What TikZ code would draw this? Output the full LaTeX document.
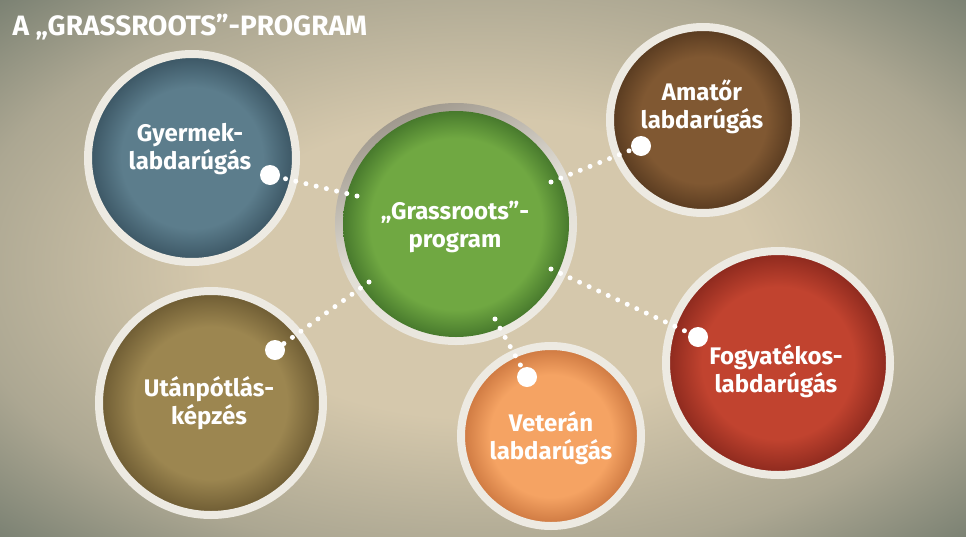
\documentclass[tikz,border=0pt]{standalone}
\usepackage{fontspec}
\setmainfont{Fira Sans}
\usetikzlibrary{calc}
\definecolor{bgA}{RGB}{213,200,172}
\definecolor{bgB}{RGB}{172,167,146}
\definecolor{bgC}{RGB}{120,127,113}
\definecolor{ringc}{RGB}{237,234,226}
\definecolor{ringdark}{RGB}{160,153,142}
\definecolor{blueIn}{RGB}{92,125,140}\definecolor{blueOut}{RGB}{58,84,98}
\definecolor{greenIn}{RGB}{112,168,66}\definecolor{greenOut}{RGB}{72,122,45}
\definecolor{brownIn}{RGB}{128,88,50}\definecolor{brownOut}{RGB}{86,57,31}
\definecolor{redIn}{RGB}{193,67,47}\definecolor{redOut}{RGB}{138,40,29}
\definecolor{orangeIn}{RGB}{245,163,99}\definecolor{orangeOut}{RGB}{203,118,63}
\definecolor{oliveIn}{RGB}{156,134,80}\definecolor{oliveOut}{RGB}{108,90,50}
\pgfdeclareradialshading{bgsh}{\pgfpoint{0bp}{0bp}}{color(0bp)=(bgA); color(14bp)=(bgA); color(27bp)=(bgB); color(36bp)=(bgC); color(50bp)=(bgC)}
\pgfdeclareradialshading{shBlue}{\pgfpoint{0bp}{0bp}}{color(0bp)=(blueIn); color(17bp)=(blueIn); color(25bp)=(blueOut); color(50bp)=(blueOut)}
\pgfdeclareradialshading{shGreen}{\pgfpoint{0bp}{0bp}}{color(0bp)=(greenIn); color(19bp)=(greenIn); color(25bp)=(greenOut); color(50bp)=(greenOut)}
\pgfdeclareradialshading{shBrown}{\pgfpoint{0bp}{0bp}}{color(0bp)=(brownIn); color(17bp)=(brownIn); color(25bp)=(brownOut); color(50bp)=(brownOut)}
\pgfdeclareradialshading{shRed}{\pgfpoint{0bp}{0bp}}{color(0bp)=(redIn); color(17bp)=(redIn); color(25bp)=(redOut); color(50bp)=(redOut)}
\pgfdeclareradialshading{shOrange}{\pgfpoint{0bp}{0bp}}{color(0bp)=(orangeIn); color(17bp)=(orangeIn); color(25bp)=(orangeOut); color(50bp)=(orangeOut)}
\pgfdeclareradialshading{shOlive}{\pgfpoint{0bp}{0bp}}{color(0bp)=(oliveIn); color(17bp)=(oliveIn); color(25bp)=(oliveOut); color(50bp)=(oliveOut)}
\tikzset{
  ball/.style 2 args={circle, inner sep=0pt, minimum size={2*(#1)-8pt}, draw=ringc, line width=8pt, shading=#2},
  lbl/.style={text=white, align=center, font=\bfseries\fontsize{24}{28.5}\selectfont},
  bigdot/.style={circle, fill=white, inner sep=0pt, minimum size=20pt},
  dots/.style={draw=white, line width=5pt, line cap=round, dash pattern=on 0pt off 10.5pt},
}
\begin{document}
\begin{tikzpicture}[x=1pt,y=-1pt]
\useasboundingbox (0,0) rectangle (966,536);
\shade[shading=bgsh] (0,0) rectangle (966,536);
\node[anchor=west, text=white, font=\bfseries\fontsize{28}{32}\selectfont] (title) at (9,27) {A „GRASSROOTS”-PROGRAM};
% outer circles
\node[ball={108pt}{shBlue}] (gyer) at (192,158) {};
\node[ball={97pt}{shBrown}] (amat) at (703,120) {};
\node[ball={116pt}{shRed}] (fogy) at (778,363) {};
\node[ball={94pt}{shOrange}] (vet) at (551,436) {};
\node[ball={116pt}{shOlive}] (utan) at (211,403) {};
% center
\shade[top color=ringdark, bottom color=ringc, middle color=ringc!85!ringdark, shading angle=25] (456,224) circle[radius=121];
\node[circle, inner sep=0pt, minimum size=226pt, shading=shGreen] (gr) at (456,224) {};
% labels
\node[lbl] (tgyer) at (190,149) {Gyermek-\\labdarúgás};
\node[lbl] (tgr) at (455,227) {„Grassroots”-\\program};
\node[lbl] (tamat) at (702,107) {Amatőr\\labdarúgás};
\node[lbl] (tfogy) at (776,371) {Fogyatékos-\\labdarúgás};
\node[lbl] (tvet) at (551,438) {Veterán\\labdarúgás};
\node[lbl] (tutan) at (209,403) {Utánpótlás-\\képzés};
% connector ends on the centre circle
\coordinate (g1) at (357,196);
\coordinate (g2) at (551,182);
\coordinate (g3) at (551,269);
\coordinate (g4) at (495,319);
\coordinate (g5) at (369,282);
% big dots
\node[bigdot] (dgyer) at (270,175) {};
\node[bigdot] (damat) at (641,146) {};
\node[bigdot] (dfogy) at (698,337) {};
\node[bigdot] (dvet) at (527,377) {};
\node[bigdot] (dutan) at (275,350) {};
% dotted connectors
\draw[dots] (g1) -- (dgyer.center);
\draw[dots] (g2) -- (damat.center);
\draw[dots] (g3) -- (dfogy.center);
\draw[dots] (g4) -- (dvet.center);
\draw[dots] (g5) -- (dutan.center);
\end{tikzpicture}
\end{document}
